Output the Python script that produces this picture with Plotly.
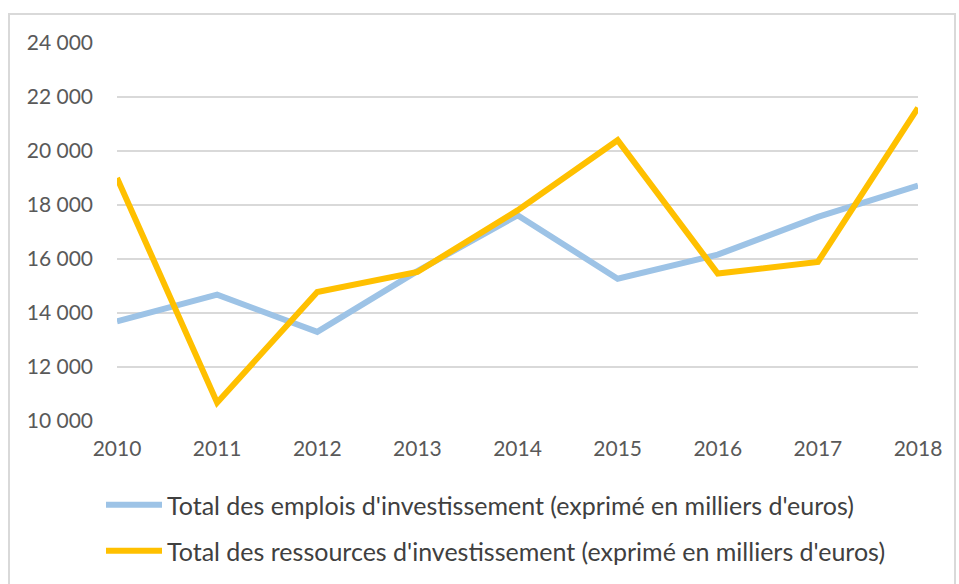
import plotly.graph_objects as go

years = [2010, 2011, 2012, 2013, 2014, 2015, 2016, 2017, 2018]
emplois = [13690, 14680, 13300, 15550, 17620, 15270, 16160, 17560, 18720]
ressources = [19000, 10680, 14780, 15520, 17800, 20400, 15460, 15890, 21600]
name_emplois = "Total des emplois d'investissement (exprimé en milliers d'euros)"
name_ressources = "Total des ressources d'investissement (exprimé en milliers d'euros)"
y_ticks = [10000, 12000, 14000, 16000, 18000, 20000, 22000, 24000]

FONT = "Lato"

fig = go.Figure()
fig.add_trace(go.Scatter(x=years, y=emplois, mode="lines", name=name_emplois,
                         line=dict(color="#9DC3E6", width=6), legend="legend"))
fig.add_trace(go.Scatter(x=years, y=ressources, mode="lines", name=name_ressources,
                         line=dict(color="#FFC000", width=6), legend="legend2"))

W, H = 959, 584
L, R, T, B = 117, 41, 43, 163
pw, ph = W - L - R, H - T - B

def px(xp):
    return (xp - L) / pw

def py(yp):
    return (H - B - yp) / ph

fig.update_layout(
    width=W, height=H,
    margin=dict(l=L, r=R, t=T, b=B, autoexpand=False),
    paper_bgcolor="white", plot_bgcolor="white",
    separators=", ",
    font=dict(family=FONT, size=21, color="#595959"),
    xaxis=dict(range=[2010, 2018], tickmode="array", tickvals=years,
               ticktext=[str(y) for y in years], showgrid=False, zeroline=False,
               showline=False, ticks="", ticklabelstandoff=13,
               tickfont=dict(size=21, color="#595959")),
    yaxis=dict(range=[10000, 24000], tickmode="array", tickvals=y_ticks,
               tickformat=",d", showgrid=True, gridcolor="#D9D9D9", gridwidth=2,
               zeroline=False, showline=False, ticks="", ticklabelstandoff=23,
               tickfont=dict(size=21, color="#595959")),
    legend=dict(x=px(101), y=py(505), xanchor="left", yanchor="middle",
                font=dict(size=25, color="#404040", family=FONT),
                bgcolor="rgba(0,0,0,0)", itemwidth=56),
    legend2=dict(x=px(101), y=py(551), xanchor="left", yanchor="middle",
                 font=dict(size=25, color="#404040", family=FONT),
                 bgcolor="rgba(0,0,0,0)", itemwidth=56),
    showlegend=True,
    shapes=[dict(type="rect", xref="paper", yref="paper",
                 x0=px(9), x1=px(955), y0=py(640), y1=py(14),
                 line=dict(color="#D9D9D9", width=2), fillcolor="rgba(0,0,0,0)",
                 layer="below")],
)

fig.write_html("out.html", config={"displayModeBar": False},
               post_script="document.body.style.margin='0';")
